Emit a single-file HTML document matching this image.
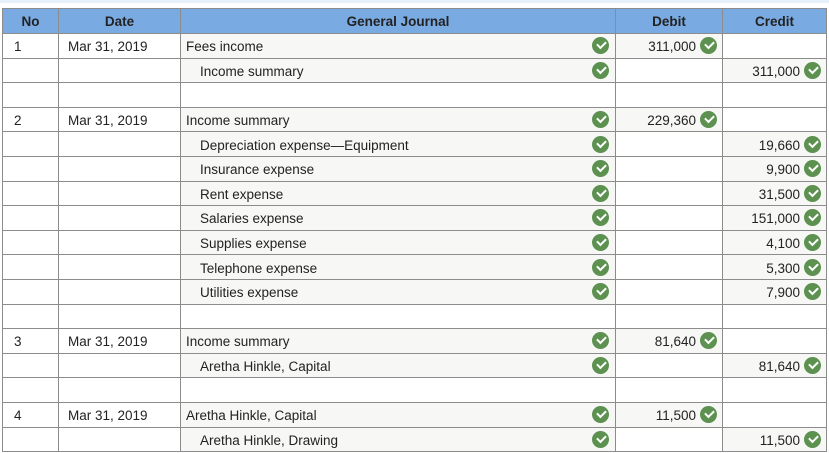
<!DOCTYPE html><html><head><style>
body{margin:0;width:829px;height:453px;overflow:hidden;background:#fff;font-family:"Liberation Sans",Arial,sans-serif;font-size:13.5px;color:#222}
.topline{position:absolute;left:0;top:0;width:829px;height:3px;background:#e6f0fa}
table{position:absolute;left:2px;top:8px;border-collapse:collapse;table-layout:fixed}
td,th{border:1px solid #8c8c8c;padding:2px 5px 0 5px;height:21.6px;white-space:nowrap;overflow:hidden}
th{background:#7aaae2;font-weight:bold;color:#222;height:23px;padding-top:1px}
td.c1{padding-left:11px}
td.c2{padding-left:9px}
td.a{background:#f7f7f5;position:relative}
td.n{text-align:right;padding-right:26px;position:relative}
.ck{display:inline-block;width:17px;height:17px;border-radius:50%;background:#5c9150;position:absolute;top:50%;margin-top:-8.5px}
.ck:after{content:"";position:absolute;left:4.5px;top:4px;width:7px;height:4px;border-left:2.4px solid #fff;border-bottom:2.4px solid #fff;transform:rotate(-45deg)}
td.a .ck{right:6px}
td.n .ck{right:5px}
.i{padding-left:19px}
</style></head><body><div class="topline"></div>
<table>
<colgroup><col style="width:56px"><col style="width:122px"><col style="width:435px"><col style="width:107px"><col style="width:104px"></colgroup>
<tr><th>No</th><th>Date</th><th>General Journal</th><th>Debit</th><th>Credit</th></tr>
<tr><td class="c1">1</td><td class="c2">Mar 31, 2019</td><td class="a">Fees income<span class="ck"></span></td><td class="n a">311,000<span class="ck"></span></td><td class="n"></td></tr>
<tr><td></td><td></td><td class="a i">Income summary<span class="ck"></span></td><td class="n"></td><td class="n a">311,000<span class="ck"></span></td></tr>
<tr><td></td><td></td><td></td><td></td><td></td></tr>
<tr><td class="c1">2</td><td class="c2">Mar 31, 2019</td><td class="a">Income summary<span class="ck"></span></td><td class="n a">229,360<span class="ck"></span></td><td class="n"></td></tr>
<tr><td></td><td></td><td class="a i">Depreciation expense—Equipment<span class="ck"></span></td><td class="n"></td><td class="n a">19,660<span class="ck"></span></td></tr>
<tr><td></td><td></td><td class="a i">Insurance expense<span class="ck"></span></td><td class="n"></td><td class="n a">9,900<span class="ck"></span></td></tr>
<tr><td></td><td></td><td class="a i">Rent expense<span class="ck"></span></td><td class="n"></td><td class="n a">31,500<span class="ck"></span></td></tr>
<tr><td></td><td></td><td class="a i">Salaries expense<span class="ck"></span></td><td class="n"></td><td class="n a">151,000<span class="ck"></span></td></tr>
<tr><td></td><td></td><td class="a i">Supplies expense<span class="ck"></span></td><td class="n"></td><td class="n a">4,100<span class="ck"></span></td></tr>
<tr><td></td><td></td><td class="a i">Telephone expense<span class="ck"></span></td><td class="n"></td><td class="n a">5,300<span class="ck"></span></td></tr>
<tr><td></td><td></td><td class="a i">Utilities expense<span class="ck"></span></td><td class="n"></td><td class="n a">7,900<span class="ck"></span></td></tr>
<tr><td></td><td></td><td></td><td></td><td></td></tr>
<tr><td class="c1">3</td><td class="c2">Mar 31, 2019</td><td class="a">Income summary<span class="ck"></span></td><td class="n a">81,640<span class="ck"></span></td><td class="n"></td></tr>
<tr><td></td><td></td><td class="a i">Aretha Hinkle, Capital<span class="ck"></span></td><td class="n"></td><td class="n a">81,640<span class="ck"></span></td></tr>
<tr><td></td><td></td><td></td><td></td><td></td></tr>
<tr><td class="c1">4</td><td class="c2">Mar 31, 2019</td><td class="a">Aretha Hinkle, Capital<span class="ck"></span></td><td class="n a">11,500<span class="ck"></span></td><td class="n"></td></tr>
<tr><td></td><td></td><td class="a i">Aretha Hinkle, Drawing<span class="ck"></span></td><td class="n"></td><td class="n a">11,500<span class="ck"></span></td></tr>
</table></body></html>
